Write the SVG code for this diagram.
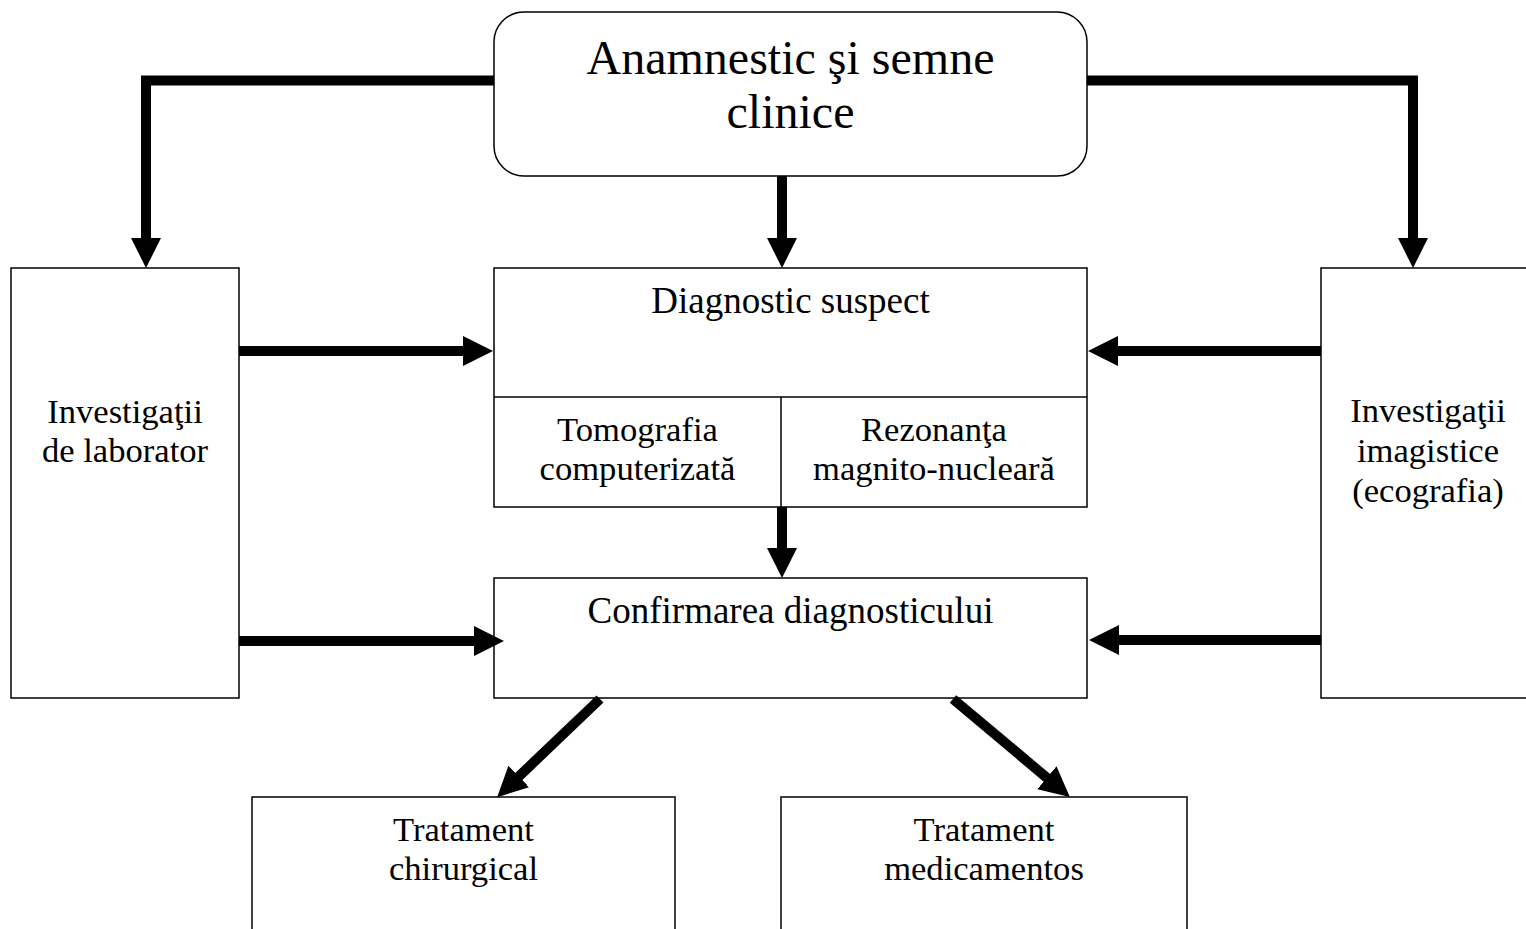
<svg xmlns="http://www.w3.org/2000/svg" width="1526" height="929" viewBox="0 0 1526 929">
<style>
.box{fill:#fff;stroke:#000;stroke-width:1.5}
.t{font-family:"Liberation Serif","Times New Roman",serif;fill:#000;text-anchor:middle}
.s{font-size:34.6px}
.m{font-size:37px}
.l{font-size:48px}
.c{fill:none;stroke:#000;stroke-width:10;stroke-linejoin:miter;marker-end:url(#ah)}
</style>
<defs>
<marker id="ah" markerUnits="userSpaceOnUse" markerWidth="30" markerHeight="30" refX="2" refY="15" orient="auto" viewBox="0 0 30 30">
<path d="M0,0 L30,15 L0,30 z" fill="#000"/>
</marker>
</defs>
<rect width="1526" height="929" fill="#fff"/>
<g id="n-anamnestic">
<rect class="box" x="494" y="12" width="593" height="164" rx="30" ry="30"/>
<text class="t l" x="790.5" y="74">Anamnestic şi semne</text>
<text class="t l" x="790.5" y="128">clinice</text>
</g>
<g id="n-laborator">
<rect class="box" x="11" y="268" width="228" height="430"/>
<text class="t s" x="125" y="423">Investigaţii</text>
<text class="t s" x="125" y="462">de laborator</text>
</g>
<g id="n-imagistice">
<rect class="box" x="1321" y="268" width="220" height="430"/>
<text class="t s" x="1428" y="422">Investigaţii</text>
<text class="t s" x="1428" y="462">imagistice</text>
<text class="t s" x="1428" y="502">(ecografia)</text>
</g>
<g id="n-suspect">
<rect class="box" x="494" y="268" width="593" height="239"/>
<line x1="494" y1="397" x2="1087" y2="397" stroke="#000" stroke-width="1.5"/>
<line x1="781" y1="397" x2="781" y2="507" stroke="#000" stroke-width="1.5"/>
<text class="t m" x="790.5" y="313">Diagnostic suspect</text>
</g>
<g id="n-tomografia">
<text class="t s" x="637.5" y="441">Tomografia</text>
<text class="t s" x="637.5" y="480">computerizată</text>
</g>
<g id="n-rezonanta">
<text class="t s" x="934" y="441">Rezonanţa</text>
<text class="t s" x="934" y="480">magnito-nucleară</text>
</g>
<g id="n-confirmare">
<rect class="box" x="494" y="578" width="593" height="120"/>
<text class="t m" x="790.5" y="623">Confirmarea diagnosticului</text>
</g>
<g id="n-chirurgical">
<rect class="box" x="252" y="797" width="423" height="150"/>
<text class="t s" x="463.5" y="841">Tratament</text>
<text class="t s" x="463.5" y="880">chirurgical</text>
</g>
<g id="n-medicamentos">
<rect class="box" x="781" y="797" width="406" height="150"/>
<text class="t s" x="984" y="841">Tratament</text>
<text class="t s" x="984" y="880">medicamentos</text>
</g>
<g id="connectors">
<path class="c" d="M494,80.5 H146 V240"/>
<path class="c" d="M1087,80.5 H1413 V240"/>
<path class="c" d="M782,176 V240"/>
<path class="c" d="M239,351 H465"/>
<path class="c" d="M1321,351 H1116"/>
<path class="c" d="M782,507 V550"/>
<path class="c" d="M239,641 H476"/>
<path class="c" d="M1321,640 H1117"/>
<path class="c" d="M600,699 L517.4,777.8"/>
<path class="c" d="M953,699 L1048.4,779.1"/>
</g>
</svg>
